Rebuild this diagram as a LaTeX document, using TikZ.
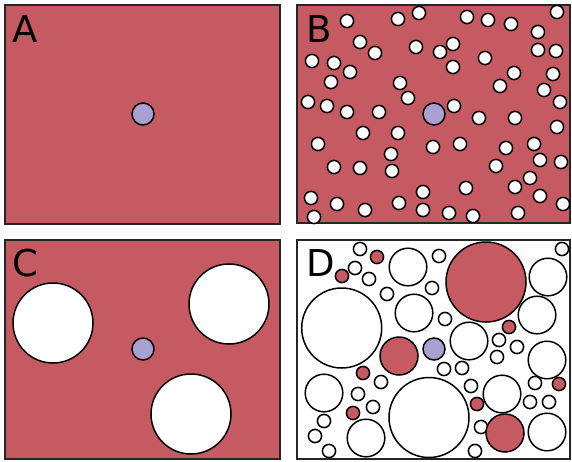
\documentclass[tikz,border=0pt]{standalone}
\usepackage{fontspec}
\setmainfont{DejaVu Sans}
\definecolor{crowdred}{RGB}{198,90,98}
\definecolor{probeblue}{RGB}{170,160,210}
\tikzset{
  panel/.style={draw=black!85, line width=1.4pt},
  wsmall/.style={draw=black, line width=1.5pt, fill=white},
  rsmall/.style={draw=black, line width=1.5pt, fill=crowdred},
  probe/.style={draw=black, line width=1.5pt, fill=probeblue},
  lbl/.style={anchor=base west, inner sep=0pt, font=\fontsize{37}{40}\selectfont}
}
\begin{document}
\begin{tikzpicture}[x=1pt,y=-1pt]
\useasboundingbox (0,0) rectangle (572,461);
% Panel A
\draw[panel, fill=crowdred] (5,5) rectangle (280,224);
\node[lbl] (la) at (12,42) {A};
\draw[probe] (143,114) circle[radius=11pt];
% Panel B
\draw[panel, fill=crowdred] (297,5) rectangle (570,223);
\node[lbl] (lb) at (306,42) {B};
\foreach \x/\y in {347/21,398/19,419/13,467/17,488/20,511/24,557/12,538/32,
  360/42,375/53,416/47,440/52,453/44,538/50,556/51,312/61,334/63,350/72,
  485/58,453/67,331/82,400/83,514/73,500/86,553/74,544/90,408/98,308/102,
  327/106,347/112,379/112,454/106,560/102,479/118,515/118,557/127,363/133,
  398/133,318/144,433/147,460/144,506/148,534/144,391/154,540/160,561/162,
  334/167,360/168,392/171,496/166,530/178,515/187,466/188,423/192,540/196,
  311/198,337/204,399/203,563/204,365/210,423/210,449/213,473/216,518/213,314/217}
  {\draw[wsmall] (\x,\y) circle[radius=6.6pt];}
\draw[probe] (434,114) circle[radius=11pt];
% Panel C
\draw[panel, fill=crowdred] (5,240) rectangle (280,459);
\node[lbl] (lc) at (12,276) {C};
\draw[wsmall] (53,323) circle[radius=40pt];
\draw[wsmall] (229,304) circle[radius=40pt];
\draw[wsmall] (191,414) circle[radius=40pt];
\draw[probe] (143,349) circle[radius=11pt];
% Panel D
\draw[panel, fill=white] (297,240) rectangle (570,459);
\node[lbl] (ld) at (306,276) {D};
% large white
\foreach \x/\y/\r in {341.7/328/40, 429/417.5/40}
  {\draw[wsmall] (\x,\y) circle[radius=\r pt];}
% medium white
\foreach \x/\y in {408/267,548/277,414/313,537/315,469/341,547/360,324/393,502/394,366/438,547/432}
  {\draw[wsmall] (\x,\y) circle[radius=18.8pt];}
% small white
\foreach \x/\y in {360/249,439/256,562/249,355/268,369/279,387/294,432/288,445/319,
  499/340,517/347,497/357,381/382,444/369,462/368,358/394,373/407,471/386,535/383,
  530/402,549/402,324/421,315/436,329/451,481/427,475/451}
  {\draw[wsmall] (\x,\y) circle[radius=6.6pt];}
% red
\draw[rsmall] (486,282) circle[radius=40pt];
\draw[rsmall] (399,356) circle[radius=19pt];
\draw[rsmall] (505,433) circle[radius=19pt];
\foreach \x/\y in {377/257,342/276,509/327,363/373,353/413,477/404,559/384}
  {\draw[rsmall] (\x,\y) circle[radius=6.6pt];}
\draw[probe] (434,349) circle[radius=11pt];
\end{tikzpicture}
\end{document}
